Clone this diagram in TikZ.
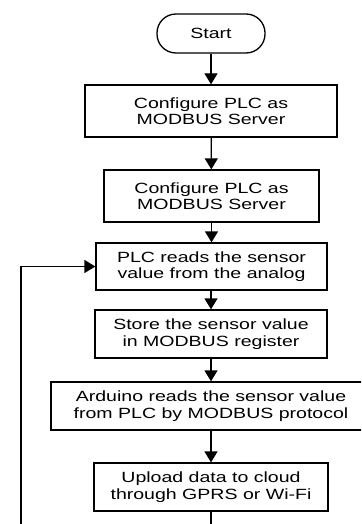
\documentclass[tikz,border=0pt]{standalone}
\usepackage{fontspec}
\setmainfont{Liberation Sans}[FakeStretch=1.32]
\usetikzlibrary{arrows.meta}

\begin{document}
\begin{tikzpicture}[x=1pt, y=-1pt,
  every node/.style={font=\fontsize{14.8}{16.5}\selectfont, align=center, inner sep=0pt},
  stepbox/.style={draw, line width=1.3pt, rectangle, fill=white},
  termbox/.style={draw, line width=1.3pt, rectangle, rounded corners=19pt, fill=white},
  flow/.style={line width=1.3pt, -{Triangle[length=11pt, width=13pt]}}]
  \fill[white] (0,0) rectangle (361,524);
  \clip (0,0) rectangle (361,524);

  % process steps
  \node[termbox, minimum width=108pt, minimum height=39pt] (start) at (211,33.5) {Start};
  \node[stepbox, minimum width=252pt, minimum height=52pt] (cfgA) at (211,111) {Configure PLC as\\MODBUS Server};
  \node[stepbox, minimum width=215pt, minimum height=52pt] (cfgB) at (211.5,196) {Configure PLC as\\MODBUS Server};
  \node[stepbox, minimum width=231pt, minimum height=47pt] (read) at (211.5,266.5) {PLC reads the sensor\\value from the analog};
  \node[stepbox, minimum width=232pt, minimum height=48pt] (store) at (211,334) {Store the sensor value\\in MODBUS register};
  \node[stepbox, minimum width=320pt, minimum height=48pt] (ard) at (211,406) {Arduino reads the sensor value\\from PLC by MODBUS protocol};
  \node[stepbox, minimum width=234pt, minimum height=48pt] (upload) at (211,487) {Upload data to cloud\\through GPRS or Wi-Fi};

  % connectors
  \draw[flow] (start) -- (cfgA);
  \draw[flow] (cfgA) -- (cfgB);
  \draw[flow] (cfgB.south -| read.north) -- (read);
  \draw[flow] (read.south -| store.north) -- (store);
  \draw[flow] (store) -- (ard);
  \draw[flow] (ard) -- (upload);

  % loop back to the reading step
  \coordinate (loopR) at (211,540);
  \coordinate (loopL) at (21,540);
  \draw[flow] (upload.south) -- (loopR) -- (loopL) |- (read.west);
\end{tikzpicture}
\end{document}
